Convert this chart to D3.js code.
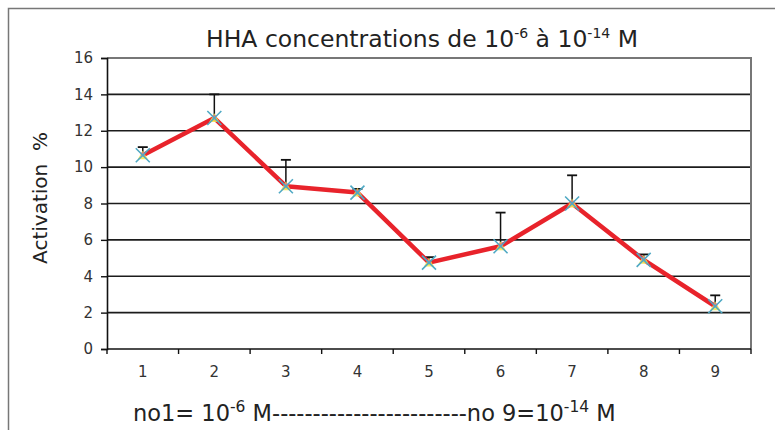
<!DOCTYPE html>
<html>
<head>
<meta charset="utf-8">
<script src="https://cdn.jsdelivr.net/npm/d3@7"></script>
<style>
  body { margin: 0; background: #fff; }
</style>
</head>
<body>
<script>
const categories = ['1', '2', '3', '4', '5', '6', '7', '8', '9']
const activation = [10.65, 12.7, 8.95, 8.6, 4.75, 5.65, 8.0, 4.9, 2.35]
const errorUp = [0.45, 1.3, 1.45, 0.2, 0.3, 1.85, 1.55, 0.3, 0.6]
const yTicks = [0, 2, 4, 6, 8, 10, 12, 14, 16]

const m = { width: 775, height: 430 }
const plot = { left: 107, right: 751, top: 58, bottom: 349 }

const svg = d3.select('body').append('svg')
    .attr('width', m.width)
    .attr('height', m.height)

// outer frame (scan edges)
svg.append('path')
    .attr('d', `M8.5,${m.height} V8.5 H${m.width}`)
    .attr('fill', 'none')
    .attr('stroke', '#777')
    .attr('stroke-width', 1.5)

const x = d3.scaleBand()
    .domain(categories)
    .range([plot.left, plot.right])

const y = d3.scaleLinear()
    .domain([0, 16])
    .range([plot.bottom, plot.top])

// grid
svg.append('g')
    .selectAll('line')
    .data(yTicks.slice(1, -1))
    .enter()
    .append('line')
        .attr('x1', plot.left)
        .attr('x2', plot.right)
        .attr('y1', d => y(d))
        .attr('y2', d => y(d))
        .attr('stroke', '#1c1c1c')
        .attr('stroke-width', 1.6)

// plot border top / right
svg.append('path')
    .attr('d', `M${plot.left},${y(16)} H${plot.right} V${plot.bottom}`)
    .attr('fill', 'none')
    .attr('stroke', '#777')
    .attr('stroke-width', 2)

// y axis
const yAxis = svg.append('g')
    .attr('transform', `translate(${plot.left},0)`)
    .call(d3.axisLeft(y).tickValues(yTicks).tickSize(6).tickPadding(8))
yAxis.select('.domain').attr('stroke', '#111').attr('stroke-width', 1.6)
yAxis.selectAll('.tick line').attr('stroke', '#111').attr('stroke-width', 1.4)
yAxis.selectAll('text')
    .style('font', '15px "DejaVu Sans", Verdana, sans-serif')
    .attr('fill', '#333')

// x axis: ticks on band edges
const xAxis = svg.append('g')
    .attr('transform', `translate(0,${plot.bottom})`)
xAxis.append('line')
    .attr('x1', plot.left)
    .attr('x2', plot.right)
    .attr('stroke', '#111')
    .attr('stroke-width', 1.6)
xAxis.selectAll('.edge')
    .data(categories.concat(['end']))
    .enter()
    .append('line')
        .attr('x1', (d, i) => plot.left + i * x.bandwidth())
        .attr('x2', (d, i) => plot.left + i * x.bandwidth())
        .attr('y1', 0)
        .attr('y2', 5)
        .attr('stroke', '#111')
        .attr('stroke-width', 1.4)
xAxis.selectAll('.lab')
    .data(categories)
    .enter()
    .append('text')
        .attr('x', d => x(d) + x.bandwidth() / 2)
        .attr('y', 28)
        .attr('text-anchor', 'middle')
        .style('font', '15px "DejaVu Sans", Verdana, sans-serif')
        .attr('fill', '#333')
        .text(d => d)

const cx = (d, i) => x(categories[i]) + x.bandwidth() / 2

// error bars (upper only)
const eb = svg.append('g')
activation.forEach((v, i) => {
    const xc = cx(null, i)
    eb.append('line')
        .attr('x1', xc).attr('x2', xc)
        .attr('y1', y(v)).attr('y2', y(v + errorUp[i]))
        .attr('stroke', '#111').attr('stroke-width', 1.5)
    eb.append('line')
        .attr('x1', xc - 5).attr('x2', xc + 5)
        .attr('y1', y(v + errorUp[i])).attr('y2', y(v + errorUp[i]))
        .attr('stroke', '#111').attr('stroke-width', 1.8)
})

// red line
const line = d3.line()
    .x((d, i) => cx(d, i))
    .y(d => y(d))

svg.append('path')
    .datum(activation)
    .attr('d', line)
    .attr('fill', 'none')
    .attr('stroke', '#e8232b')
    .attr('stroke-width', 4.5)
    .attr('stroke-linejoin', 'round')

// overlapping markers (triangle + X)
const mk = svg.append('g')
activation.forEach((v, i) => {
    const xc = cx(null, i), yc = y(v)
    mk.append('path')
        .attr('d', d3.symbol().type(d3.symbolTriangle).size(45)())
        .attr('transform', `translate(${xc},${yc + 1})`)
        .attr('fill', '#f2e84a')
        .attr('opacity', 0.85)
    mk.append('rect')
        .attr('x', xc - 2).attr('y', yc - 3)
        .attr('width', 4).attr('height', 4)
        .attr('fill', '#d9559b')
        .attr('opacity', 0.6)
    mk.append('path')
        .attr('d', `M${xc - 7},${yc - 7} L${xc + 7},${yc + 7} M${xc - 7},${yc + 7} L${xc + 7},${yc - 7}`)
        .attr('stroke', '#4fa9c4')
        .attr('stroke-width', 1.6)
})

// titles
const title = svg.append('text')
    .attr('x', 422)
    .attr('y', 47)
    .attr('text-anchor', 'middle')
    .style('font', '23.5px "DejaVu Sans", Verdana, sans-serif')
    .attr('fill', '#222')
title.append('tspan').text('HHA concentrations de 10')
title.append('tspan').attr('dy', -9).style('font-size', '14px').text('-6')
title.append('tspan').attr('dy', 9).text(' à 10')
title.append('tspan').attr('dy', -9).style('font-size', '14px').text('-14')
title.append('tspan').attr('dy', 9).text(' M')

svg.append('text')
    .attr('transform', 'translate(47,198) rotate(-90)')
    .attr('text-anchor', 'middle')
    .style('font', '20px "DejaVu Sans", Verdana, sans-serif')
    .attr('fill', '#222')
    .style('white-space', 'pre')
    .text('Activation  %')

const foot = svg.append('text')
    .attr('x', 133)
    .attr('y', 421)
    .style('font', '22.5px "DejaVu Sans", Verdana, sans-serif')
    .attr('fill', '#222')
foot.append('tspan').text('no1= 10')
foot.append('tspan').attr('dy', -9).style('font-size', '15.5px').text('-6')
foot.append('tspan').attr('dy', 9).text(' M------------------------no 9=10')
foot.append('tspan').attr('dy', -9).style('font-size', '15.5px').text('-14')
foot.append('tspan').attr('dy', 9).text(' M')
</script>
</body>
</html>
